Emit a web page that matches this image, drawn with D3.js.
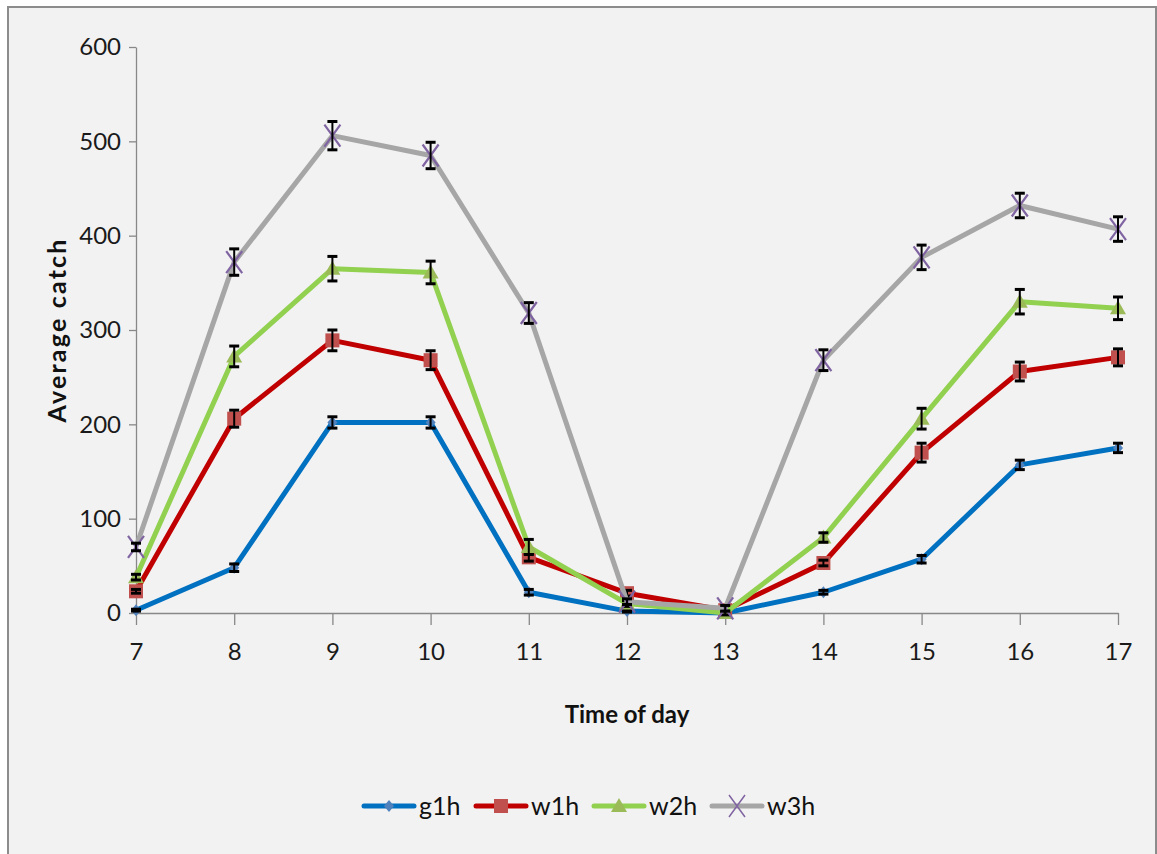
<!DOCTYPE html>
<html><head><meta charset="utf-8">
<script src="https://cdn.jsdelivr.net/npm/d3@7"></script>
<style>body{margin:0;background:#fff}svg{display:block}</style>
</head><body>
<script>
const hours = [7,8,9,10,11,12,13,14,15,16,17];
const yTicks = [0,100,200,300,400,500,600];
const seriesNames = ["g1h","w1h","w2h","w3h"];
const g1h = [3,48,202,202,22,2,0,22,57,157,175];
const w1h = [23,206,289,268,59,21,3,53,170,256,271];
const w2h = [38,272,365,361,70,10,0,80,206,330,323];
const w3h = [70,372,506,485,318,12,5,268,377,432,407];
const g1hErr = [1,4,6,6,3,1,1,2,4,5,5];
const w1hErr = [2,9,11,10,4,3,2,3,10,10,9];
const w2hErr = [3,11,13,12,8,3,2,5,11,13,12];
const w3hErr = [4,14,15,14,11,3,3,11,13,13,13];
const lineColors = ["#0070c0","#c00000","#92d050","#a6a6a6"];
const markerColors = ["#4f81bd","#c0504d","#9bbb59","#8064a2"];

const W=1157,H=854;
const svg=d3.select("body").append("svg").attr("width",W).attr("height",H);
svg.append("rect").attr("x",0).attr("y",0).attr("width",W).attr("height",H).attr("fill","#fff");
svg.append("rect").attr("x",8).attr("y",7).attr("width",1148).attr("height",870)
  .attr("fill","#f2f2f2").attr("stroke","#8c8c8c").attr("stroke-width",2);

const x=d3.scaleLinear().domain([7,17]).range([136,1118]);
const y=d3.scaleLinear().domain([0,600]).range([613,47]);
const font="Lato,'Open Sans',sans-serif";

const yAx=svg.append("g").attr("transform","translate(136,0)")
  .call(d3.axisLeft(y).tickValues(yTicks).tickSize(7).tickPadding(8).tickSizeOuter(0));
const xAx=svg.append("g").attr("transform","translate(0,613)")
  .call(d3.axisBottom(x).tickValues(hours).tickFormat(d3.format("d")).tickSize(12).tickPadding(18).tickSizeOuter(0));
[yAx,xAx].forEach(a=>{
  a.select(".domain").attr("stroke","#888").attr("stroke-width",1.3);
  a.selectAll(".tick line").attr("stroke","#888").attr("stroke-width",1.3);
  a.selectAll("text").attr("font-family",font).attr("font-size",24).attr("fill","#1a1a1a");
});

svg.append("text").attr("transform","translate(66,330) rotate(-90)").attr("text-anchor","middle")
  .attr("font-family",font).attr("font-weight","bold").attr("font-size",25).attr("letter-spacing",2.2)
  .attr("fill","#111").text("Average catch");
svg.append("text").attr("x",627).attr("y",723).attr("text-anchor","middle")
  .attr("font-family",font).attr("font-size",24).attr("fill","#111").attr("font-weight","bold").text("Time of day");

const allVals=[g1h,w1h,w2h,w3h];
const allErr=[g1hErr,w1hErr,w2hErr,w3hErr];
const line=d3.line().x((d,i)=>x(hours[i])).y(d=>y(d));

function marker(g,k,cx,cy,legend){
  const c=markerColors[k];
  if(k===0){
    g.append("path").attr("d",`M${cx},${cy-6}L${cx+5},${cy}L${cx},${cy+6}L${cx-5},${cy}Z`).attr("fill",c);
  } else if(k===1){
    g.append("rect").attr("x",cx-7).attr("y",cy-7).attr("width",14).attr("height",14).attr("fill",c);
  } else if(k===2){
    g.append("path").attr("d",`M${cx},${cy-8}L${cx+8},${cy+6}L${cx-8},${cy+6}Z`).attr("fill",c);
  } else {
    g.append("path").attr("d",`M${cx-8},${cy-11}L${cx+8},${cy+11}M${cx+8},${cy-11}L${cx-8},${cy+11}`)
      .attr("stroke",c).attr("stroke-width",legend?1.5:2.2).attr("fill","none");
  }
}

allVals.forEach((vals,k)=>{
  const g=svg.append("g");
  g.append("path").datum(vals).attr("d",line).attr("fill","none")
    .attr("stroke",lineColors[k]).attr("stroke-width",5).attr("stroke-linejoin","round");
  vals.forEach((v,i)=>marker(g,k,x(hours[i]),y(v),false));
  vals.forEach((v,i)=>{
    const e=allErr[k][i], cx=x(hours[i]);
    if(e<=0) return;
    const y1=y(v+e), y2=y(v-e);
    g.append("line").attr("x1",cx).attr("x2",cx).attr("y1",y1).attr("y2",y2).attr("stroke","#000").attr("stroke-width",2);
    [y1,y2].forEach(yy=>g.append("line").attr("x1",cx-5).attr("x2",cx+5).attr("y1",yy).attr("y2",yy)
      .attr("stroke","#000").attr("stroke-width",3));
  });
});

// legend
const legX=[364,476,594,712];
const lg=svg.append("g");
seriesNames.forEach((n,k)=>{
  const x0=legX[k], ly=806;
  lg.append("line").attr("x1",x0).attr("x2",x0+50).attr("y1",ly).attr("y2",ly)
    .attr("stroke",lineColors[k]).attr("stroke-width",5).attr("stroke-linecap","round");
  marker(lg,k,x0+25,ly,true);
  lg.append("text").attr("x",x0+55).attr("y",ly+9).attr("font-family",font).attr("font-size",25)
    .attr("fill","#111").text(n);
});
</script>
</body></html>
